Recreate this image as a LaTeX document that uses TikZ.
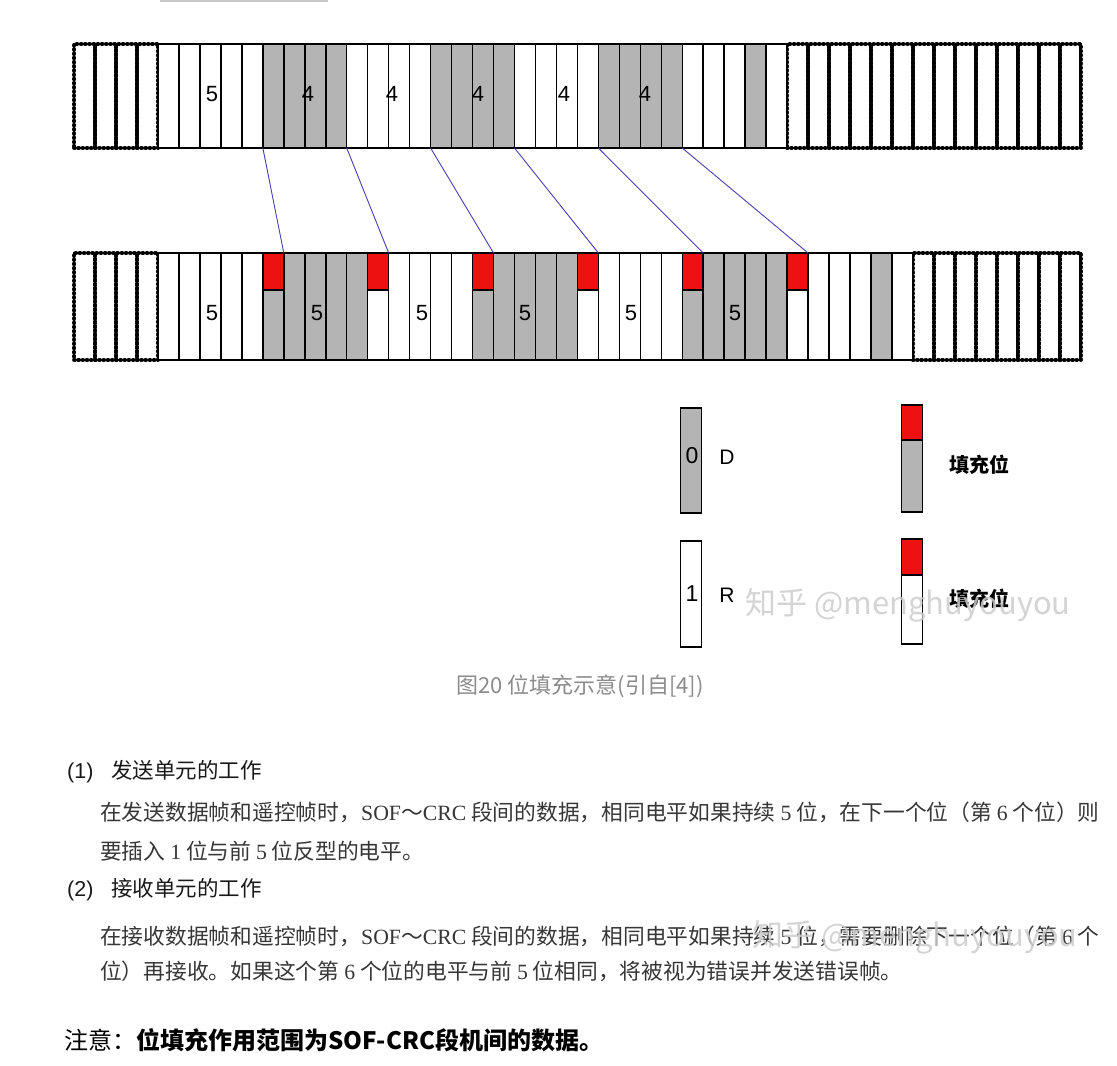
\documentclass[tikz,border=0pt]{standalone}
\usepackage{fontspec}
\setmainfont{Liberation Sans}
\newfontfamily\cjk{Noto Sans CJK SC}
\newfontfamily\lser{Liberation Serif}
\newcommand\la[1]{{\lser #1}}
\definecolor{cgray}{RGB}{180,180,180}
\definecolor{cred}{RGB}{238,17,17}
\definecolor{cblue}{RGB}{72,64,176}
\definecolor{capgray}{RGB}{140,140,140}
\definecolor{bodytxt}{RGB}{55,55,55}
\definecolor{wmark}{RGB}{205,205,205}
\begin{document}
\begin{tikzpicture}[x=1pt,y=-1pt,
  cellbase/.style={draw=black, line width=1.5pt, minimum width=20.97pt, inner sep=0pt, outer sep=0pt},
  cW/.style={cellbase, fill=white},
  cG/.style={cellbase, fill=cgray},
  redtop/.style={path picture={
      \fill[cred] (path picture bounding box.north west) rectangle ([yshift=-#1]path picture bounding box.north east);
      \draw[line width=1.5pt] ([yshift=-#1]path picture bounding box.north west) -- ([yshift=-#1]path picture bounding box.north east);}},
  sG/.style={cG, redtop=37pt},
  sW/.style={cW, redtop=37pt},
  dotcell/.style={minimum width=20.97pt, inner sep=0pt, outer sep=0pt,
     preaction={draw=black, line width=2.6pt, rounded corners=2pt},
     postaction={draw=black, line width=4pt, dash pattern=on 0.6pt off 3.6pt, line cap=round, rounded corners=2pt}},
  toprow/.style={minimum height=104pt},
  botrow/.style={minimum height=107pt},
  num/.style={font=\fontsize{22}{24}\selectfont, inner sep=0pt},
  lett/.style={font=\fontsize{21}{24}\selectfont, inner sep=0pt},
  link/.style={draw=cblue, line width=0.9pt},
  heading/.style={anchor=west, inner sep=0pt, font=\cjk\fontsize{21.5}{25}\selectfont, text=black!90},
  body/.style={anchor=west, inner sep=0pt, font=\cjk\fontsize{21.75}{25}\selectfont, text=bodytxt},
  wm/.style={inner sep=0pt, font=\cjk\fontsize{31}{34}\selectfont, text=wmark, opacity=0.85}
]
\useasboundingbox (0,0) rectangle (1117,1066);
\fill[white] (0,0) rectangle (1117,1066);
\fill[black!22] (160,0) rectangle (328,2);

% ---------- top row ----------
\foreach \i in {0,...,3}
  \node[dotcell, toprow] (tl\i) at ({158+(\i-4+0.5)*20.97}, 96) {};
\foreach \i in {0,...,13}
  \node[dotcell, toprow] (tr\i) at ({158+(\i+30+0.5)*20.97}, 96) {};
\foreach \s [count=\i from 0] in {cW,cW,cW,cW,cW,cG,cG,cG,cG,cW,cW,cW,cW,cG,cG,cG,cG,cW,cW,cW,cW,cG,cG,cG,cG,cW,cW,cW,cG,cW}
  \node[\s, toprow] (t\i) at ({158+(\i+0.5)*20.97}, 96) {};

\node[num] (nt1) at (212,94) {5};
\node[num] (nt2) at (308,94) {4};
\node[num] (nt3) at (392,94) {4};
\node[num] (nt4) at (478,94) {4};
\node[num] (nt5) at (564,94) {4};
\node[num] (nt6) at (645,94) {4};

% ---------- bottom row ----------
\foreach \i in {0,...,3}
  \node[dotcell, botrow] (bl\i) at ({158+(\i-4+0.5)*20.97}, 306.5) {};
\foreach \i in {0,...,7}
  \node[dotcell, botrow] (br\i) at ({158+(\i+36+0.5)*20.97}, 306.5) {};
\foreach \s [count=\i from 0] in {cW,cW,cW,cW,cW,sG,cG,cG,cG,cG,sW,cW,cW,cW,cW,sG,cG,cG,cG,cG,sW,cW,cW,cW,cW,sG,cG,cG,cG,cG,sW,cW,cW,cW,cG,cW}
  \node[\s, botrow] (b\i) at ({158+(\i+0.5)*20.97}, 306.5) {};

\node[num] (nb1) at (212,313) {5};
\node[num] (nb2) at (317,313) {5};
\node[num] (nb3) at (422,313) {5};
\node[num] (nb4) at (525,313) {5};
\node[num] (nb5) at (631,313) {5};
\node[num] (nb6) at (735,313) {5};

% ---------- connectors ----------
\draw[link] (t5.south west) -- (b5.north east);
\draw[link] (t9.south west) -- (b10.north east);
\draw[link] (t13.south west) -- (b15.north east);
\draw[link] (t17.south west) -- (b20.north east);
\draw[link] (t21.south west) -- (b25.north east);
\draw[link] (t25.south west) -- (b30.north east);

% ---------- legend ----------
\node[cG, minimum height=105pt] (lgD) at (691,460.5) {};
\node[cW, minimum height=106pt] (lgR) at (691,594) {};
\node[cG, redtop=35pt, minimum height=107pt] (lgS1) at (912,458.5) {};
\node[cW, redtop=36pt, minimum height=105pt] (lgS2) at (912,591.5) {};
\node[num, font=\fontsize{23}{26}\selectfont] (l0) at (692,456) {0};
\node[lett] (lD) at (727,457) {D};
\node[num, font=\fontsize{23}{26}\selectfont] (l1) at (692,594) {1};
\node[lett] (lR) at (727,595) {R};
\node[inner sep=0pt, font=\cjk\bfseries\fontsize{20}{24}\selectfont] (lS1) at (979,465) {填充位};
\node[inner sep=0pt, font=\cjk\bfseries\fontsize{20}{24}\selectfont] (lS2) at (979,599) {填充位};

% ---------- caption ----------
\node[inner sep=0pt, font=\cjk\fontsize{22}{26}\selectfont, text=capgray] (cap) at (580,686) {图20 位填充示意(引自[4])};

% ---------- text ----------
\node[heading] (h1) at (67,772) {{\rmfamily (1)}\hspace{18pt}发送单元的工作};
\node[body] (p1a) at (100,812) {在发送数据帧和遥控帧时，\la{SOF}～\la{CRC} 段间的数据，相同电平如果持续 \la{5} 位，在下一个位（第 \la{6} 个位）则};
\node[body] (p1b) at (100,851) {要插入 \la{1} 位与前 \la{5} 位反型的电平。};
\node[heading] (h2) at (67,890) {{\rmfamily (2)}\hspace{18pt}接收单元的工作};
\node[body] (p2a) at (100,936) {在接收数据帧和遥控帧时，\la{SOF}～\la{CRC} 段间的数据，相同电平如果持续 \la{5} 位，需要删除下一个位（第 \la{6} 个};
\node[body] (p2b) at (100,971) {位）再接收。如果这个第 \la{6} 个位的电平与前 \la{5} 位相同，将被视为错误并发送错误帧。};
\node[anchor=west, inner sep=0pt, font=\cjk\fontsize{24}{28}\selectfont] (note) at (64,1040) {注意：\textbf{位填充作用范围为SOF-CRC段机间的数据。}};

% ---------- watermarks ----------
\node[wm] (wm1) at (908,605) {知乎 @menghuyouyou};
\node[wm] (wm2) at (915,937) {知乎 @menghuyouyou};
\end{tikzpicture}
\end{document}
